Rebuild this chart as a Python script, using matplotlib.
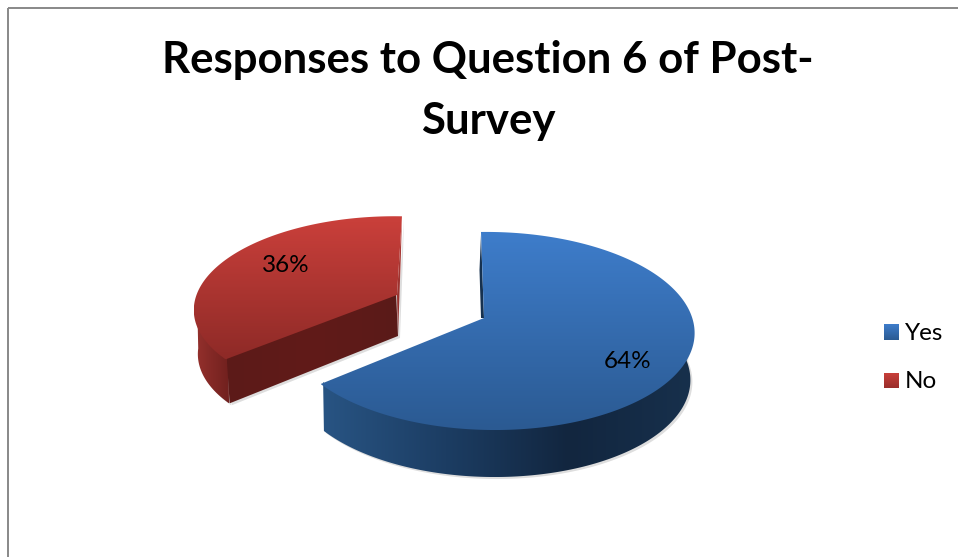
import numpy as np
import matplotlib
matplotlib.use("Agg")
import matplotlib.pyplot as plt
from matplotlib.patches import Polygon, Rectangle
from matplotlib.colors import LinearSegmentedColormap

categories = ["Yes", "No"]
values = [64, 36]
title_lines = ["Responses to Question 6 of Post-", "Survey"]

plt.rcParams["font.family"] = ["Lato", "DejaVu Sans"]

W, H = 958, 557
fig = plt.figure(figsize=(W / 100, H / 100), dpi=100)
ax = fig.add_axes([0, 0, 1, 1])
ax.set_xlim(0, W)
ax.set_ylim(H, 0)
ax.axis("off")


def project(theta, radius, p):
    # unit pie -> screen, with a bit of perspective
    x = radius * np.cos(theta)
    y = radius * np.sin(theta)
    w = 1 + 0.131 * y + p["q"] * x
    return p["cx"] + (p["a"] * x + p["bx"] * y) / w, p["cy"] + (-p["b"] * y) / w


def gradient(poly_pts, colors, horizontal=False, zorder=2):
    poly_pts = np.array(poly_pts)
    x0, x1 = poly_pts[:, 0].min(), poly_pts[:, 0].max()
    y0, y1 = poly_pts[:, 1].min(), poly_pts[:, 1].max()
    cmap = LinearSegmentedColormap.from_list("g", colors)
    g = np.linspace(0, 1, 256)
    g = g.reshape(1, -1) if horizontal else g.reshape(-1, 1)
    im = ax.imshow(g, cmap=cmap, extent=[x0, x1, y1, y0], aspect="auto",
                   zorder=zorder, interpolation="bilinear")
    patch = Polygon(poly_pts, closed=True, transform=ax.transData,
                    facecolor="none", edgecolor="none")
    ax.add_patch(patch)
    im.set_clip_path(patch)
    return im


def wall(xs, ys, depth, cx):
    # extrude the rim downwards, lower rim slightly narrower
    # upper rim pulled in a little so it tucks under the top face
    ux = cx + (xs - cx) * 0.985
    bx = cx + (xs - cx) * 0.98
    by = ys + depth
    return list(zip(ux, ys - 2)) + list(zip(bx[::-1], by[::-1]))


def shadow(pts):
    ax.add_patch(Polygon(np.array(pts) + [2, 2], closed=True, facecolor="#000000",
                         edgecolor="none", alpha=0.13, zorder=1))


blue = {"cx": 484, "cy": 318, "a": 202, "b": 97.3, "bx": -3.4, "q": -0.03}
red = {"cx": 397, "cy": 295, "a": 191.5, "b": 89, "bx": 5.6, "q": 0.045}

sweep_yes = 2 * np.pi * values[0] / sum(values)
sweep_no = 2 * np.pi * values[1] / sum(values)
start = np.pi / 2
depth_blue = 47
depth_red = 44

# No slice (red), drawn first
t = np.linspace(start, start + sweep_no, 200)
rx, ry = project(t, 1, red)
top_no = [(red["cx"], red["cy"])] + list(zip(rx, ry))
ts = t[t > np.pi * 1.03]
sx, sy = project(ts, 1, red)
side_no = wall(sx, sy, depth_red, red["cx"])
front_no = [(red["cx"] - 1, red["cy"] - 3), (rx[-1] + 1, ry[-1] - 3),
            (rx[-1] + 4, ry[-1] + depth_red), (red["cx"] + 1, red["cy"] + 41)]
inner_no = [(rx[0], ry[0]), (red["cx"], red["cy"]), (red["cx"] + 1, red["cy"] + 41),
            (rx[0] - 1, ry[0] + 38)]
shadow(side_no)
shadow(front_no)
shadow(inner_no)
gradient(inner_no, ["#b5403c", "#8c2b28"])
gradient(side_no, ["#93302c", "#70201e"], horizontal=True)
gradient(front_no, ["#5c1a18", "#611b19", "#5a1a18"], horizontal=True)
gradient(top_no, ["#cb403b", "#8e2a27"], zorder=3)

# Yes slice (blue)
t = np.linspace(start, start - sweep_yes, 300)
bx, by = project(t, 1, blue)
top_yes = [(blue["cx"], blue["cy"])] + list(zip(bx, by))
ts = t[t < 0.06]
sx, sy = project(ts, 1, blue)
side_yes = wall(sx, sy, depth_blue, blue["cx"])
sliver = [(bx[0], by[0] + 3), (blue["cx"], blue["cy"]), (blue["cx"] - 3, blue["cy"]),
          (bx[0] - 1.5, by[0] + 38)]
shadow(side_yes)
ax.add_patch(Polygon(sliver, closed=True, facecolor="#16314f", edgecolor="none", zorder=2))
gradient(side_yes, ["#285483", "#1c3d63", "#12263f", "#17304c"], horizontal=True)
gradient(top_yes, ["#3e7dcb", "#2b5a92"], zorder=3)

# labels on the slices
pct = [f"{round(100 * v / sum(values))}%" for v in values]
ax.text(628, 362, pct[0], fontsize=17.5, ha="center", va="center", color="black", zorder=5)
ax.text(286, 265, pct[1], fontsize=17.5, ha="center", va="center", color="black", zorder=5)

# title
ax.text(488, 60, title_lines[0], fontsize=31.5, fontweight="bold", ha="center", va="center")
ax.text(488, 121, title_lines[1], fontsize=31.5, fontweight="bold", ha="center", va="center")

# legend
leg_colors = [["#3e7dcb", "#2b5a92"], ["#cb403b", "#9a2e2b"]]
for name, cols, yy in zip(categories, leg_colors, [332, 380.5]):
    sq = [(884, yy - 8), (899, yy - 8), (899, yy + 8), (884, yy + 8)]
    gradient(sq, cols)
    ax.text(905, yy + 1, name, fontsize=17.5, ha="left", va="center", color="black")

# chart frame (left, top, clipped at the image edge)
ax.add_patch(Rectangle((8.5, 7.5), W + 20, H + 20, facecolor="none", edgecolor="#888888", linewidth=1.4))

ax.set_xlim(0, W)
ax.set_ylim(H, 0)
fig.savefig("out.png", dpi=100)
